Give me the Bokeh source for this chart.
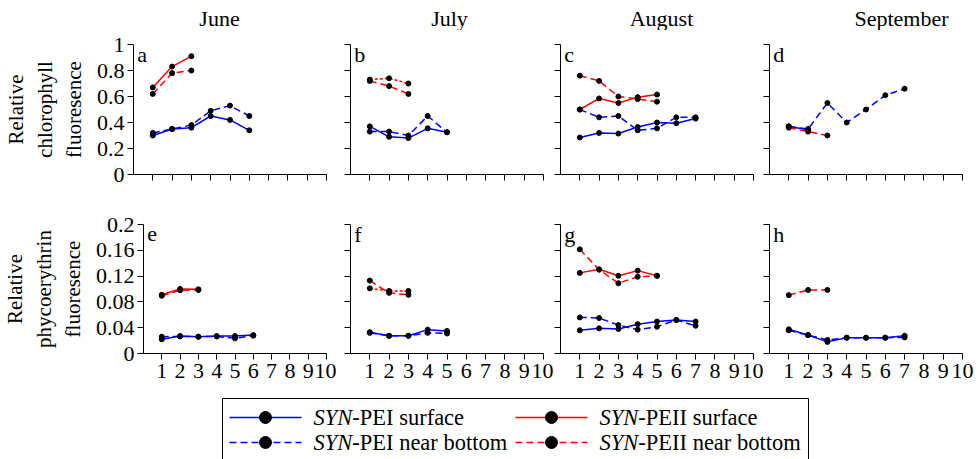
from bokeh.plotting import figure
from bokeh.layouts import column, row
from bokeh.models import Range1d, FixedTicker, Label
from bokeh.core.properties import value
from bokeh.embed import file_html
from bokeh.resources import INLINE

SERIF = "Liberation Serif"

# ---------------- data ----------------
months = ["June", "July", "August", "September"]
letters_chl = ["a", "b", "c", "d"]
letters_pe = ["e", "f", "g", "h"]
x_ticks = [1, 2, 3, 4, 5, 6, 7, 8, 9, 10]
chl_ticks = [0, 0.2, 0.4, 0.6, 0.8, 1]
chl_tick_labels = ["0", "0.2", "0.4", "0.6", "0.8", "1"]
pe_ticks = [0, 0.04, 0.08, 0.12, 0.16, 0.2]
pe_tick_labels = ["0", "0.04", "0.08", "0.12", "0.16", "0.2"]

# Relative chlorophyll fluorescence
jun_chl_pei_s = [0.30, 0.35, 0.36, 0.45, 0.42, 0.34]
jun_chl_pei_b = [0.32, 0.35, 0.38, 0.49, 0.53, 0.45]
jun_chl_peii_s = [0.67, 0.83, 0.91]
jun_chl_peii_b = [0.62, 0.78, 0.80]

jul_chl_pei_s = [0.37, 0.29, 0.28, 0.355, 0.325]
jul_chl_pei_b = [0.33, 0.33, 0.30, 0.45, 0.325]
jul_chl_peii_s = [0.73, 0.74, 0.70]
jul_chl_peii_b = [0.72, 0.68, 0.62]

aug_chl_pei_s = [0.285, 0.32, 0.315, 0.365, 0.40, 0.395, 0.43]
aug_chl_pei_b = [0.50, 0.44, 0.45, 0.34, 0.355, 0.44, 0.44]
aug_chl_peii_s = [0.50, 0.585, 0.55, 0.595, 0.615]
aug_chl_peii_b = [0.76, 0.72, 0.60, 0.58, 0.56]

sep_chl_pei_s = [0.37, 0.345]
sep_chl_pei_b = [0.37, 0.35, 0.55, 0.40, 0.50, 0.61, 0.66]
sep_chl_peii_s = []
sep_chl_peii_b = [0.36, 0.33, 0.30]

# Relative phycoerythrin fluorescence
jun_pe_pei_s = [0.022, 0.027, 0.026, 0.027, 0.027, 0.0285]
jun_pe_pei_b = [0.026, 0.0265, 0.026, 0.0265, 0.0235, 0.0275]
jun_pe_peii_s = [0.091, 0.100, 0.0995]
jun_pe_peii_b = [0.0895, 0.098, 0.0985]

jul_pe_pei_s = [0.033, 0.0275, 0.0275, 0.037, 0.035]
jul_pe_pei_b = [0.032, 0.0275, 0.0275, 0.032, 0.031]
jul_pe_peii_s = [0.101, 0.097, 0.097]
jul_pe_peii_b = [0.113, 0.094, 0.091]

aug_pe_pei_s = [0.036, 0.039, 0.038, 0.0455, 0.0495, 0.052, 0.0495]
aug_pe_pei_b = [0.056, 0.055, 0.044, 0.037, 0.0415, 0.052, 0.043]
aug_pe_peii_s = [0.125, 0.1305, 0.1205, 0.1285, 0.1205]
aug_pe_peii_b = [0.1615, 0.130, 0.109, 0.119, 0.1205]

sep_pe_pei_s = [0.0375, 0.0285, 0.018, 0.0245, 0.0245, 0.0245, 0.0275]
sep_pe_pei_b = [0.036, 0.0285, 0.021, 0.0245, 0.0245, 0.0245, 0.025]
sep_pe_peii_s = []
sep_pe_peii_b = [0.0905, 0.0985, 0.0985]

legend_prefix = "SYN"
legend_names = ["-PEI surface", "-PEII surface", "-PEI near bottom", "-PEII near bottom"]

# ---------------- styling ----------------
BLUE = "#0000ff"
RED = "#ff0000"
DASH = "7 4"
SHORT = "3 2"
TICK_FS = "22px"
TITLE_FS = "22px"

chl_data = [
    (jun_chl_pei_s, jun_chl_pei_b, jun_chl_peii_s, jun_chl_peii_b),
    (jul_chl_pei_s, jul_chl_pei_b, jul_chl_peii_s, jul_chl_peii_b),
    (aug_chl_pei_s, aug_chl_pei_b, aug_chl_peii_s, aug_chl_peii_b),
    (sep_chl_pei_s, sep_chl_pei_b, sep_chl_peii_s, sep_chl_peii_b),
]
pe_data = [
    (jun_pe_pei_s, jun_pe_pei_b, jun_pe_peii_s, jun_pe_peii_b),
    (jul_pe_pei_s, jul_pe_pei_b, jul_pe_peii_s, jul_pe_peii_b),
    (aug_pe_pei_s, aug_pe_pei_b, aug_pe_peii_s, aug_pe_peii_b),
    (sep_pe_pei_s, sep_pe_pei_b, sep_pe_peii_s, sep_pe_peii_b),
]

LEFT = [133, 14, 7, 6]
RIGHT = [10, 10, 10, 17]
FRAME_W = 193
TITLE_CX = [219, 449, 661, 901]   # horizontal centres of month titles (px)


def panel(col, top, series, letter):
    left, right = LEFT[col], RIGHT[col]
    if top:
        h, bt, bb, ymax = 158, 14, 14, 1.0
        ticks, labels = chl_ticks, chl_tick_labels
    else:
        h, bt, bb, ymax = 198, 36, 33, 0.2
        ticks, labels = pe_ticks, pe_tick_labels
    p = figure(width=left + FRAME_W + right, height=h,
               x_range=Range1d(0, 10), y_range=Range1d(0, ymax),
               output_backend="svg", toolbar_location=None,
               min_border_left=left, min_border_right=right,
               min_border_top=bt, min_border_bottom=bb)
    p.outline_line_color = None
    p.xgrid.visible = False
    p.ygrid.visible = False
    p.background_fill_color = "white"
    p.border_fill_color = "white"

    for ax in (p.xaxis[0], p.yaxis[0]):
        ax.axis_line_color = "black"
        ax.axis_line_width = 1
        ax.major_tick_line_color = "black"
        ax.major_tick_out = 6
        ax.major_tick_in = 0
        ax.minor_tick_line_color = None
        ax.major_label_text_font = SERIF
        ax.major_label_text_font_size = TICK_FS
        ax.major_label_text_color = "black"

    p.xaxis.ticker = FixedTicker(ticks=x_ticks)
    p.xaxis.major_label_standoff = 4
    if top:
        p.xaxis.major_label_overrides = {t: "" for t in x_ticks}
        p.xaxis.major_label_text_font_size = "1px"
        p.xaxis.major_label_standoff = 0

    p.yaxis.ticker = FixedTicker(ticks=ticks)
    if col == 0:
        p.yaxis.major_label_overrides = {t: s for t, s in zip(ticks, labels)}
        p.yaxis.major_label_standoff = 3
        p.yaxis.axis_label = ("Relative\nchlorophyll\nfluoresence" if top
                              else "Relative\nphycoerythrin\nfluoresence")
        p.yaxis.axis_label_text_font = SERIF
        p.yaxis.axis_label_text_font_size = "21px"
        p.yaxis.axis_label_text_font_style = "normal"
        p.yaxis.axis_label_text_color = "black"
        p.yaxis.axis_label_standoff = 8
    else:
        p.yaxis.major_label_overrides = {t: "" for t in ticks}
        p.yaxis.major_label_text_font_size = "1px"
        p.yaxis.major_label_standoff = 0

    pei_s, pei_b, peii_s, peii_b = series
    surf_dash = SHORT if col == 1 else "solid"
    styles = [(pei_s, BLUE, "solid"), (pei_b, BLUE, DASH),
              (peii_s, RED, surf_dash), (peii_b, RED, DASH)]
    for ys, colr, dash in styles:
        if len(ys) == 0:
            continue
        xs = list(range(1, len(ys) + 1))
        p.line(xs, ys, line_color=colr, line_width=1.5, line_dash=dash)
    for ys, colr, dash in styles:
        if len(ys) == 0:
            continue
        xs = list(range(1, len(ys) + 1))
        p.scatter(xs, ys, size=5, color="black")

    p.add_layout(Label(x=0.2, y=ymax * (0.92 if top else 0.925), text=letter,
                       text_font=SERIF, text_font_size="22px",
                       text_baseline="alphabetic", text_align="left",
                       text_color="black"))
    return p


# ---------------- month titles strip ----------------
TH = 30
tt = figure(width=979, height=TH, x_range=Range1d(0, 979), y_range=Range1d(TH, 0),
            output_backend="svg", toolbar_location=None,
            x_axis_type=None, y_axis_type=None, min_border=0)
tt.outline_line_color = None
tt.grid.visible = False
tt.border_fill_color = "white"
tt.background_fill_color = "white"
tt.text(TITLE_CX, [18] * len(months), text=months, text_font=value(SERIF),
        text_font_size=TITLE_FS, text_align="center", text_baseline="middle",
        text_color="black")

top_row = [panel(i, True, chl_data[i], letters_chl[i]) for i in range(4)]
bot_row = [panel(i, False, pe_data[i], letters_pe[i]) for i in range(4)]

# ---------------- legend ----------------
LH = 73
lg = figure(width=979, height=LH, x_range=Range1d(0, 979), y_range=Range1d(LH, 0),
            output_backend="svg", toolbar_location=None,
            x_axis_type=None, y_axis_type=None, min_border=0)
lg.outline_line_color = None
lg.grid.visible = False
lg.border_fill_color = "white"
lg.quad(left=222, right=808, top=12, bottom=85, fill_color=None,
        line_color="black", line_width=1)

FS = 22.5
syn_w = 1.723 * FS
col_x = [229, 515]
row_y = [31, 56]
leg_colors = [BLUE, RED, BLUE, RED]
leg_dash = ["solid", "solid", DASH, DASH]
for i, name in enumerate(legend_names):
    cx = col_x[i % 2]
    cy = row_y[i // 2]
    lg.line([cx, cx + 72], [cy, cy], line_color=leg_colors[i], line_width=1.5,
            line_dash=leg_dash[i])
    lg.scatter([cx + 36], [cy], size=12, color="black")
    tx = cx + 84
    lg.text([tx], [cy], text=[legend_prefix], text_font=value(SERIF),
            text_font_style="italic", text_font_size=f"{FS}px",
            text_baseline="middle", text_align="left", text_color="black")
    lg.text([tx + syn_w], [cy], text=[name], text_font=value(SERIF),
            text_font_size=f"{FS}px", text_baseline="middle",
            text_align="left", text_color="black")

layout = column(tt, row(*top_row, spacing=0), row(*bot_row, spacing=0), lg, spacing=0)

open("out.html", "w").write(file_html(layout, INLINE))
